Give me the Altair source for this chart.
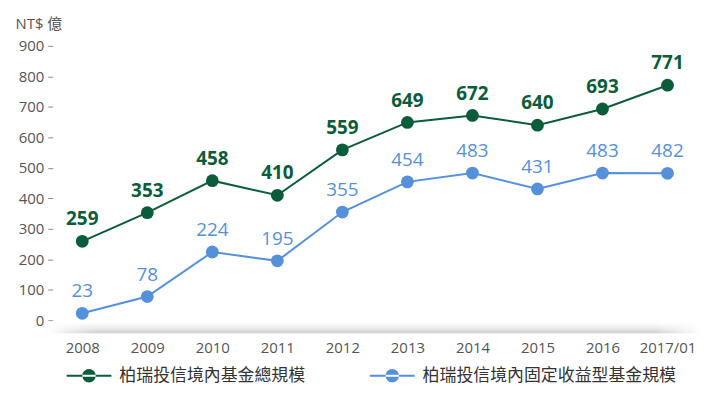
import altair as alt
import pandas as pd

years = ["2008", "2009", "2010", "2011", "2012", "2013", "2014", "2015", "2016", "2017/01"]
total = [259, 353, 458, 410, 559, 649, 672, 640, 693, 771]
fixed = [23, 78, 224, 195, 355, 454, 483, 431, 483, 482]
series_names = ["柏瑞投信境內基金總規模", "柏瑞投信境內固定收益型基金規模"]
colors = ["#0b5c3a", "#5591da"]

rows = []
for y, v in zip(years, total):
    rows.append({"year": y, "series": series_names[0], "value": v})
for y, v in zip(years, fixed):
    rows.append({"year": y, "series": series_names[1], "value": v})
df = pd.DataFrame(rows)

NUM_FONT = "Open Sans, Noto Sans CJK TC"
CJK_FONT = "Noto Sans CJK TC"

xenc = alt.X("year:N", sort=years,
             scale=alt.Scale(type="point", padding=0.454),
             axis=alt.Axis(title=None, labelAngle=0, ticks=False, domain=False,
                           labelPadding=20, labelFontSize=15, labelFont=NUM_FONT,
                           labelColor="#555555"))
yenc = alt.Y("value:Q", scale=alt.Scale(domain=[0, 900], nice=False, zero=True),
             axis=alt.Axis(values=list(range(0, 901, 100)), grid=False, domain=False,
                           tickSize=5, tickColor="#888888", labelPadding=4,
                           labelFontSize=15, labelFont=NUM_FONT, labelColor="#555555",
                           title="NT$ 億", titleAngle=0, titleX=-38, titleY=-22,
                           titleAlign="left", titleBaseline="middle",
                           titleFontSize=15, titleFontWeight="normal",
                           titleFont=NUM_FONT, titleColor="#555555"))

cscale = alt.Scale(domain=series_names, range=colors)

base = alt.Chart(df)
deco = alt.Chart(pd.DataFrame({"a": [0]}))

shadow = deco.mark_rect(
    color=alt.Gradient(
        gradient="linear", x1=0, y1=0, x2=0, y2=1,
        stops=[alt.GradientStop(color="#ffffff", offset=0),
               alt.GradientStop(color="#e8e8e8", offset=0.6),
               alt.GradientStop(color="#cfcfcf", offset=1)])
).encode(x=alt.value(-5), x2=alt.value(652), y=alt.value(278), y2=alt.value(289))

shadow_fade = deco.mark_rect(
    color=alt.Gradient(
        gradient="linear", x1=0, y1=0, x2=1, y2=0,
        stops=[alt.GradientStop(color="rgba(255,255,255,1)", offset=0),
               alt.GradientStop(color="rgba(255,255,255,0)", offset=0.07),
               alt.GradientStop(color="rgba(255,255,255,0)", offset=0.93),
               alt.GradientStop(color="rgba(255,255,255,1)", offset=1)])
).encode(x=alt.value(-5), x2=alt.value(652), y=alt.value(277), y2=alt.value(290))

line_total = base.transform_filter(alt.datum.series == series_names[0]).mark_line(
    strokeWidth=2, color=colors[0]).encode(x=xenc, y=yenc)
line_fixed = base.transform_filter(alt.datum.series == series_names[1]).mark_line(
    strokeWidth=2, color=colors[1]).encode(x=xenc, y=yenc)

symbol_path = ("M-1,-0.045L1,-0.045L1,0.045L-1,0.045Z"
               "M-0.3,0a0.3,0.3 0 1,0 0.6,0a0.3,0.3 0 1,0 -0.6,0Z")
legend = alt.Legend(title=None, orient="none", legendX=14, legendY=309,
                    direction="horizontal", symbolType=symbol_path, symbolSize=2025,
                    symbolStrokeWidth=0, labelOffset=8, columnPadding=65,
                    labelFont=CJK_FONT, labelFontSize=17, labelColor="#333333",
                    labelLimit=400)

points = base.mark_point(filled=True, size=165, opacity=1).encode(
    x=xenc, y=yenc,
    color=alt.Color("series:N", scale=cscale, legend=legend))

labels_total = base.transform_filter(alt.datum.series == series_names[0]).mark_text(
    dy=-16, fontSize=19, fontWeight="bold", font=NUM_FONT, baseline="alphabetic",
    color=colors[0]).encode(x=xenc, y=yenc, text="value:Q")
labels_fixed = base.transform_filter(alt.datum.series == series_names[1]).mark_text(
    dy=-16, fontSize=19, fontWeight="normal", font=NUM_FONT, baseline="alphabetic",
    color=colors[1]).encode(x=xenc, y=yenc, text="value:Q")

chart = alt.layer(shadow, shadow_fade, line_total, line_fixed, points,
                  labels_total, labels_fixed).properties(
    width=648, height=276,
    autosize=alt.AutoSizeParams(type="none"),
    padding={"left": 45, "top": 37, "right": 5, "bottom": 72},
).configure(background="white").configure_view(stroke=None)

chart.save("out.html", embed_options={"renderer": "svg", "actions": False})
